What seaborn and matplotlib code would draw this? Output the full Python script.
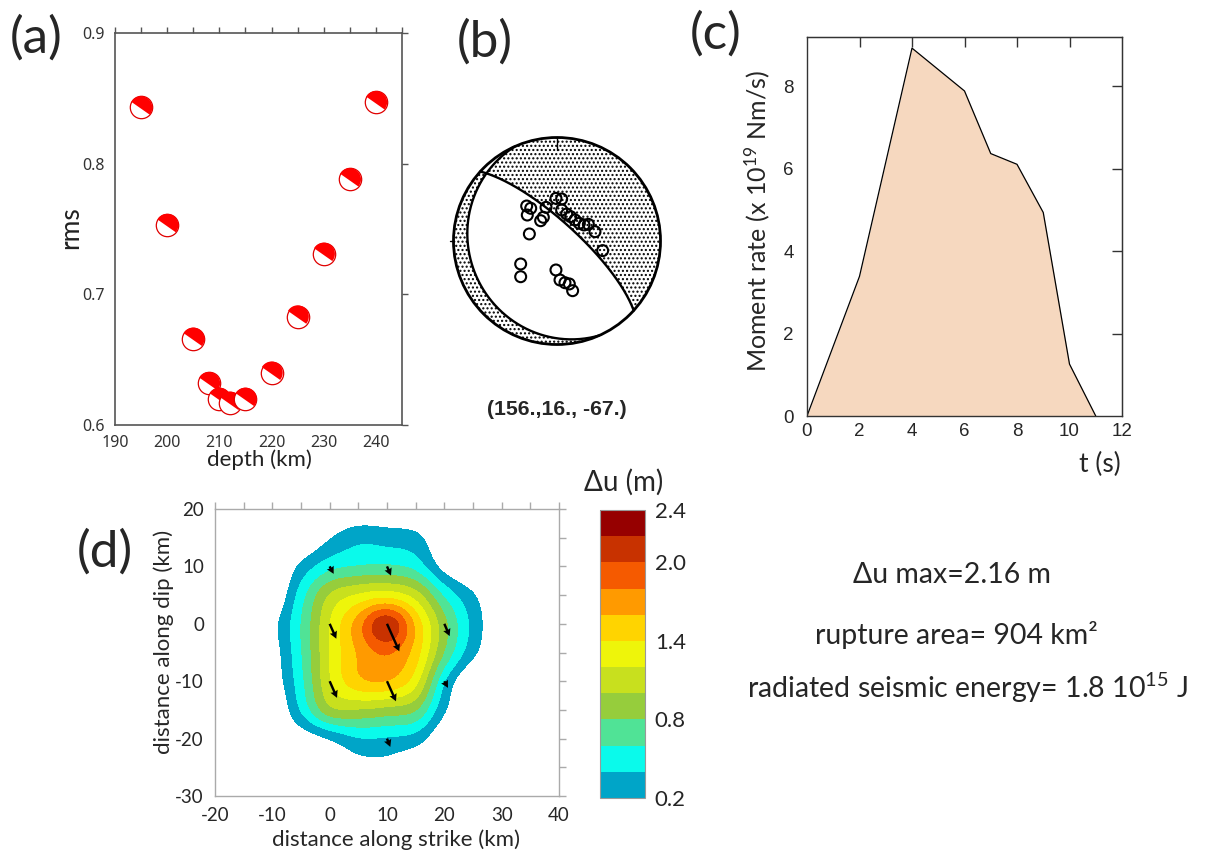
import numpy as np
import matplotlib
matplotlib.use("Agg")
import matplotlib.pyplot as plt
from matplotlib.path import Path
from matplotlib.markers import MarkerStyle
from matplotlib.patches import Circle
from matplotlib.ticker import MultipleLocator
import seaborn as sns

# ---------------- data ----------------
# (a) rms misfit vs depth
depth_km = [195, 200, 205, 208, 210, 212, 215, 220, 225, 230, 235, 240]
rms = [0.843, 0.753, 0.666, 0.632, 0.620, 0.617, 0.620, 0.640, 0.683, 0.731, 0.788, 0.847]

# (b) focal mechanism (strike, dip, rake) and station positions on the net
strike, dip, rake = 156.0, 16.0, -67.0
mech_label = "(156.,16., -67.)"
station_x = [-0.293, -0.254, -0.287, -0.106, -0.132, -0.158, -0.267, -0.010, 0.045,
             0.045, 0.094, 0.132, 0.174, 0.216, 0.261, 0.303, 0.367, 0.441,
             -0.351, -0.351, -0.010, 0.029, 0.077, 0.119, 0.151]
station_y = [0.338, 0.316, 0.251, 0.325, 0.229, 0.196, 0.068, 0.412, 0.406,
             0.300, 0.261, 0.235, 0.203, 0.171, 0.155, 0.161, 0.090, -0.093,
             -0.222, -0.345, -0.280, -0.377, -0.403, -0.415, -0.480]

# (c) moment rate function
stf_t = [0, 2, 4, 6, 7, 8, 9, 10, 11]
stf_rate = [0, 3.39, 8.93, 7.89, 6.37, 6.11, 4.94, 1.26, 0]

# (d) slip distribution on the fault (m), read on a 5 km grid
slip_x = [-15, -10, -5, 0, 5, 10, 15, 20, 25, 30]
slip_y = [20, 15, 10, 5, 0, -5, -10, -15, -20, -25, -30]
slip_row_p20 = [0, 0, 0, 0, 0.02, 0.02, 0, 0, 0, 0]
slip_row_p15 = [0, 0, -0.05, 0.18, 0.34, 0.31, 0.26, 0.0, 0, 0]
slip_row_p10 = [0, -0.1, 0.25, 0.52, 0.60, 0.62, 0.52, 0.10, -0.05, 0]
slip_row_p05 = [0, -0.05, 0.50, 1.02, 1.22, 1.30, 1.10, 0.56, 0.22, 0]
slip_row_000 = [0, 0.12, 0.60, 1.20, 1.70, 2.20, 1.55, 0.86, 0.33, 0]
slip_row_m05 = [0, 0.08, 0.58, 1.20, 1.62, 1.82, 1.50, 0.78, 0.25, 0]
slip_row_m10 = [0, 0.05, 0.53, 1.18, 1.55, 1.60, 1.28, 0.40, -0.05, 0]
slip_row_m15 = [0, -0.05, 0.42, 0.95, 0.98, 0.92, 0.82, 0.22, -0.05, 0]
slip_row_m20 = [0, 0, 0.05, 0.20, 0.38, 0.37, 0.30, 0.0, 0, 0]
slip_row_m25 = [0, 0, 0, 0.0, 0.10, 0.12, 0.0, 0, 0, 0]
slip_row_m30 = [0, 0, 0, 0, 0, 0, 0, 0, 0, 0]

arrow_x = [0, 10, 0, 10, 20, 0, 10, 20, 10]
arrow_y = [10, 10, 0, 0, 0, -10, -10, -10, -20]
arrow_u = [0.70, 0.70, 1.16, 2.15, 0.93, 1.28, 1.57, 0.64, 0.58]
arrow_v = [-1.30, -1.60, -2.60, -4.80, -2.15, -2.90, -3.50, -1.16, -1.45]

slip_levels = [0.2, 0.4, 0.6, 0.8, 1.0, 1.2, 1.4, 1.6, 1.8, 2.0, 2.2, 2.4]
slip_colors = ["#00A5C8", "#0AFAEB", "#50E396", "#96CD3C", "#C8E01E", "#EEF50A",
               "#FFD400", "#FF9A00", "#F55A00", "#C83200", "#960000"]
cbar_ticks = [0.2, 0.8, 1.4, 2.0, 2.4]

summary_lines = ["\u0394u max=2.16 m", "rupture area= 904 km\u00b2",
                 "radiated seismic energy= 1.8 10$^{15}$ J"]

# ---------------- style ----------------
sns.set_style("white")
plt.rcParams["font.family"] = ["Lato", "DejaVu Sans"]
plt.rcParams["mathtext.fontset"] = "custom"
plt.rcParams["mathtext.rm"] = "Lato"
plt.rcParams["mathtext.it"] = "Lato:italic"
plt.rcParams["mathtext.bf"] = "Lato:bold"
plt.rcParams["axes.unicode_minus"] = False
plt.rcParams["hatch.color"] = "black"
plt.rcParams["hatch.linewidth"] = 1.0

W, H = 1206, 855
fig = plt.figure(figsize=(W / 100, H / 100), dpi=100)
fig.patch.set_facecolor("white")


def rect(l, t, r, b):
    return [l / W, 1 - b / H, (r - l) / W, (b - t) / H]


def fxy(px, py):
    return px / W, 1 - py / H


# ---------------- (a) ----------------
axa = fig.add_axes(rect(115, 33, 402, 425))
theta = np.deg2rad(np.linspace(-40, 150, 80))
hv = np.column_stack([np.cos(theta), np.sin(theta)])
hv = np.vstack([hv, hv[:1]])
hcodes = [Path.MOVETO] + [Path.LINETO] * (len(hv) - 2) + [Path.CLOSEPOLY]
half_marker = MarkerStyle(Path(hv, hcodes))
for i, (d, r) in enumerate(zip(depth_km, rms)):
    sns.scatterplot(x=[d], y=[r], ax=axa, s=260, marker="o", color="white",
                    edgecolor="#E00000", linewidth=0.9, zorder=3 + 2 * i, legend=False)
    sns.scatterplot(x=[d], y=[r], ax=axa, s=260, marker=half_marker, color="#FF0000",
                    edgecolor="none", linewidth=0, zorder=4 + 2 * i, legend=False)
axa.set_xlim(190, 245)
axa.set_ylim(0.6, 0.9)
axa.xaxis.set_major_locator(MultipleLocator(10))
axa.xaxis.set_minor_locator(MultipleLocator(5))
axa.yaxis.set_major_locator(MultipleLocator(0.1))
axa.yaxis.set_major_formatter(matplotlib.ticker.FormatStrFormatter("%.1f"))
axa.tick_params(which="both", direction="out", top=True, right=True, length=4,
                width=1.0, color="#555555", labelsize=11.5, labelcolor="#333333")
for lab in axa.get_xticklabels() + axa.get_yticklabels():
    lab.set_fontfamily(["Noto Sans", "DejaVu Sans"])
for sp in axa.spines.values():
    sp.set_color("#555555")
    sp.set_linewidth(1.2)
axa.set_xlabel("depth (km)", fontsize=16, color="#222222")
axa.set_ylabel("rms", fontsize=19, color="#222222")
axa.xaxis.set_label_coords(0.505, -0.062)
axa.yaxis.set_label_coords(-0.112, 0.503)

# ---------------- (b) ----------------
lim = 110 / 103.5
axb = fig.add_axes(rect(557 - 110, 241 - 110, 557 + 110, 241 + 110))
axb.set_xlim(-lim, lim)
axb.set_ylim(-lim, lim)
axb.set_aspect("equal")
axb.axis("off")

ph, de, la = np.deg2rad([strike, dip, rake])
n_vec = np.array([-np.sin(de) * np.sin(ph), np.sin(de) * np.cos(ph), -np.cos(de)])
d_vec = np.array([np.cos(la) * np.cos(ph) + np.sin(la) * np.cos(de) * np.sin(ph),
                  np.cos(la) * np.sin(ph) - np.sin(la) * np.cos(de) * np.cos(ph),
                  -np.sin(la) * np.sin(de)])

g = np.linspace(-1, 1, 500)
GX, GY = np.meshgrid(g, g)
R = np.hypot(GX, GY)
inside = R <= 1.0
th = 2 * np.arcsin(np.clip(R, 0, 1) / np.sqrt(2))
az = np.arctan2(GX, GY)
gam = np.stack([np.sin(th) * np.cos(az), np.sin(th) * np.sin(az), np.cos(th)])
amp = np.tensordot(n_vec, gam, 1) * np.tensordot(d_vec, gam, 1)
amp = np.where(inside, amp, np.nan)
hs = axb.contourf(GX, GY, amp, levels=[0, 10], colors="none", hatches=["...."])
hs.set_edgecolor("black")
hs.set_linewidth(0)


def great_circle(normal):
    s = np.array([-normal[1], normal[0], 0.0])
    s /= np.linalg.norm(s)
    v = np.cross(normal, s)
    v /= np.linalg.norm(v)
    if v[2] < 0:
        v = -v
    t = np.linspace(0, np.pi, 300)
    p = np.outer(np.cos(t), s) + np.outer(np.sin(t), v)
    p[:, 2] = np.clip(p[:, 2], 0, 1)
    tt = np.arccos(p[:, 2])
    aa = np.arctan2(p[:, 1], p[:, 0])
    rr = np.sqrt(2) * np.sin(tt / 2)
    return rr * np.sin(aa), rr * np.cos(aa)


for nv in (n_vec, d_vec):
    gx, gy = great_circle(nv)
    axb.plot(gx, gy, color="black", lw=1.7, zorder=3)
axb.add_patch(Circle((0, 0), 1.0, fill=False, lw=2.0, color="black", zorder=4))
axb.plot([0, 0], [1.0, 0.88], color="black", lw=1.0, zorder=4)
axb.plot([-1.0, -1.03], [0, 0], color="black", lw=1.0, zorder=4)
sns.scatterplot(x=station_x, y=station_y, ax=axb, s=62, marker="o",
                facecolor="none", edgecolor="black", linewidth=1.5, zorder=5, legend=False)
fig.text(*fxy(557, 409), mech_label, ha="center", va="center", fontsize=15.3,
         fontweight="bold", family=["Liberation Sans", "DejaVu Sans"])

# ---------------- (c) ----------------
axc = fig.add_axes(rect(807, 37, 1122, 416))
axc.fill_between(stf_t, stf_rate, 0, color="#F6D8BF", lw=0, zorder=1)
sns.lineplot(x=stf_t, y=stf_rate, ax=axc, color="black", lw=0.9, zorder=2)
axc.set_xlim(0, 12)
axc.set_ylim(0, 9.2)
axc.xaxis.set_major_locator(MultipleLocator(2))
axc.yaxis.set_major_locator(MultipleLocator(2))
axc.yaxis.set_minor_locator(MultipleLocator(0.5))
axc.tick_params(axis="x", which="major", direction="in", length=5, width=1,
                color="#333333", labelsize=13.5, pad=5)
axc.tick_params(axis="y", which="both", direction="out", length=6, width=1,
                color="#333333", labelsize=13.5)
for lab in axc.get_xticklabels() + axc.get_yticklabels():
    lab.set_fontfamily(["Liberation Sans", "DejaVu Sans"])
for sp in axc.spines.values():
    sp.set_color("#333333")
    sp.set_linewidth(1.0)
sec_r = axc.secondary_yaxis("right")
sec_r.set_yticks([2, 4, 6, 8])
sec_r.tick_params(direction="in", length=7, width=1, color="#333333", labelright=False)
sec_r.spines["right"].set_color("#333333")
sec_t = axc.secondary_xaxis("top")
sec_t.set_xticks([2, 4, 6, 8, 10])
sec_t.tick_params(direction="in", length=7, width=1, color="#333333", labeltop=False)
sec_t.spines["top"].set_color("#333333")
axc.set_ylabel("Moment rate (x 10$^{19}$ Nm/s)", fontsize=18)
axc.set_xlabel("t (s)", fontsize=19)
axc.yaxis.set_label_coords(-0.112, 0.514)
axc.xaxis.set_label_coords(0.93, -0.095)

# ---------------- (d) ----------------
axd = fig.add_axes(rect(215, 509, 559, 796))


def cr_weights(n, factor):
    m = (n - 1) * factor + 1
    Wm = np.zeros((m, n))
    for k in range(m):
        t = k / factor
        i = min(int(np.floor(t)), n - 2)
        u = t - i
        w = [(-u ** 3 + 2 * u ** 2 - u) / 2, (3 * u ** 3 - 5 * u ** 2 + 2) / 2,
             (-3 * u ** 3 + 4 * u ** 2 + u) / 2, (u ** 3 - u ** 2) / 2]
        for j, wj in zip(range(i - 1, i + 3), w):
            Wm[k, min(max(j, 0), n - 1)] += wj
    return Wm


def gauss_smooth(A, sigma_cells):
    r = int(np.ceil(3 * sigma_cells))
    k = np.exp(-0.5 * (np.arange(-r, r + 1) / sigma_cells) ** 2)
    k /= k.sum()
    A = np.apply_along_axis(lambda v: np.convolve(np.pad(v, r, mode="edge"), k, "valid"), 0, A)
    A = np.apply_along_axis(lambda v: np.convolve(np.pad(v, r, mode="edge"), k, "valid"), 1, A)
    return A


Z = np.array([slip_row_p20, slip_row_p15, slip_row_p10, slip_row_p05, slip_row_000,
              slip_row_m05, slip_row_m10, slip_row_m15, slip_row_m20, slip_row_m25,
              slip_row_m30])
fac = 12
Wy = cr_weights(len(slip_y), fac)
Wx = cr_weights(len(slip_x), fac)
Zf = gauss_smooth(Wy @ Z @ Wx.T, 0.8 * fac / 5)
xf = np.linspace(slip_x[0], slip_x[-1], Wx.shape[0])
yf = np.linspace(slip_y[0], slip_y[-1], Wy.shape[0])
cs = axd.contourf(xf, yf, Zf, levels=slip_levels, colors=slip_colors, zorder=1)
axd.quiver(arrow_x, arrow_y, arrow_u, arrow_v, angles="xy", scale_units="xy", scale=1,
           color="black", width=0.007, headwidth=3.2, headlength=3.0,
           headaxislength=2.7, minlength=0.3, zorder=3)
axd.set_xlim(-20, 40)
axd.set_ylim(-30, 20)
axd.xaxis.set_major_locator(MultipleLocator(10))
axd.yaxis.set_major_locator(MultipleLocator(10))
axd.xaxis.set_minor_locator(MultipleLocator(5))
axd.yaxis.set_minor_locator(MultipleLocator(5))
axd.tick_params(which="major", direction="out", length=5, width=1, color="#AAAAAA",
                labelsize=13.5, top=True, right=True, pad=3)
axd.tick_params(which="minor", direction="out", length=5, width=1, color="#AAAAAA",
                top=True, right=True, bottom=False, left=False)
for sp in axd.spines.values():
    sp.set_color("#AAAAAA")
    sp.set_linewidth(1.0)
axd.set_xlabel("distance along strike (km)", fontsize=16)
axd.set_ylabel("distance along dip (km)", fontsize=16)
axd.xaxis.set_label_coords(0.526, -0.118)
axd.yaxis.set_label_coords(-0.118, 0.537)

cax = fig.add_axes(rect(600, 510, 645, 798))
cb = fig.colorbar(cs, cax=cax, ticks=cbar_ticks)
cb.ax.tick_params(length=0, labelsize=16, pad=7)
cb.ax.set_yticklabels([f"{t:.1f}" for t in cbar_ticks])
cb.outline.set_edgecolor("#999999")
cb.outline.set_linewidth(0.8)
fig.text(*fxy(624, 482), "\u0394u (m)", ha="center", va="center", fontsize=20)

# ---------------- text block ----------------
fig.text(*fxy(952, 575), summary_lines[0], ha="center", va="center", fontsize=20.5)
fig.text(*fxy(956, 635), summary_lines[1], ha="center", va="center", fontsize=20.5)
fig.text(*fxy(967, 688), summary_lines[2], ha="center", va="center", fontsize=20.5)

# ---------------- panel labels ----------------
for lab, (px, py) in zip(["(a)", "(b)", "(c)", "(d)"],
                         [(36, 38), (485, 42), (716, 34), (105, 552)]):
    fig.text(*fxy(px, py), lab, ha="center", va="center", fontsize=37)

fig.savefig("out.png", dpi=100, facecolor="white")
